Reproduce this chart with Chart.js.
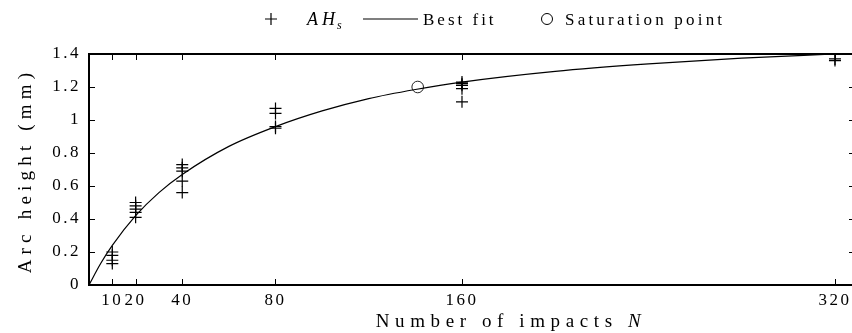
<!DOCTYPE html>
<html><head><meta charset="utf-8">
<script src="https://cdn.jsdelivr.net/npm/chart.js@4.4.1/dist/chart.umd.min.js"></script>
<style>html,body{margin:0;padding:0;background:#fff}#wrap{width:852px;height:333px}</style>
</head><body><div id="wrap"><canvas id="c" width="852" height="333"></canvas></div>
<script>
// Measured arc heights AH_s (mm) vs number of impacts N
const measN  = [10,10,10,10, 20,20,20,20,20, 40,40,40,40,40, 80,80,80,80, 160,160,160,160,160, 320,320];
const measAH = [0.20,0.18,0.15,0.13, 0.50,0.48,0.46,0.44,0.41, 0.73,0.71,0.69,0.63,0.56, 1.07,1.04,0.96,0.95, 1.23,1.22,1.21,1.19,1.11, 1.36,1.37];
// Best fit curve
const fitN  = [0,5,10,20,30,40,60,80,100,120,140,160,200,240,280,320];
const fitAH = [0,0.13,0.24,0.42,0.56,0.67,0.84,0.96,1.055,1.13,1.185,1.23,1.295,1.34,1.375,1.40];
// Saturation point
const satN  = [141];
const satAH = [1.20];
// Tick labels
const xTicks = [10,20,40,80,160,320];
const yTicks = [0,0.2,0.4,0.6,0.8,1,1.2,1.4];
const legendLabels = ['AH', 'Best fit', 'Saturation point'];
const xTitle = 'Number of impacts ';
const xTitleVar = 'N';
const yTitle = 'Arc height (mm)';

const SERIF = '"Liberation Serif", "DejaVu Serif", serif';
const TICK_SPACING = '2.5px';

const spacingPlugin = {
  id: 'spacing',
  beforeUpdate(chart){ chart.ctx.letterSpacing = TICK_SPACING; },
  beforeLayout(chart){ chart.ctx.letterSpacing = TICK_SPACING; },
  beforeDraw(chart){ chart.ctx.letterSpacing = TICK_SPACING; }
};

function spacedText(ctx, txt, x, y, spacing){
  ctx.letterSpacing = spacing + 'px';
  ctx.fillText(txt, x, y);
  return ctx.measureText(txt).width;
}

const framePlugin = {
  id: 'frame',
  afterDraw(chart){
    const {ctx, chartArea:a, scales:{x, y}} = chart;
    ctx.save();
    ctx.letterSpacing = '0px';
    ctx.strokeStyle = '#000';
    ctx.fillStyle = '#000';
    // inward ticks
    ctx.lineWidth = 1;
    ctx.beginPath();
    const rightEdge = a.right + 3;
    xTicks.forEach(v => {
      const px = Math.round(x.getPixelForValue(v)) + 0.5;
      ctx.moveTo(px, a.bottom); ctx.lineTo(px, a.bottom - 6);
      ctx.moveTo(px, a.top); ctx.lineTo(px, a.top + 6);
    });
    yTicks.forEach(v => {
      const py = Math.round(y.getPixelForValue(v)) + 0.5;
      ctx.moveTo(a.left, py); ctx.lineTo(a.left + 6, py);
      ctx.moveTo(rightEdge, py); ctx.lineTo(rightEdge - 6, py);
    });
    ctx.stroke();
    // frame (right edge lies just outside the picture)
    ctx.lineWidth = 2;
    ctx.beginPath();
    ctx.moveTo(rightEdge, a.top); ctx.lineTo(a.left, a.top);
    ctx.lineTo(a.left, a.bottom); ctx.lineTo(rightEdge, a.bottom);
    ctx.stroke();

    // y title
    ctx.save();
    ctx.font = '19px ' + SERIF;
    ctx.letterSpacing = '5.2px';
    ctx.textAlign = 'center';
    ctx.textBaseline = 'middle';
    ctx.translate(26, (a.top + a.bottom) / 2 + 1);
    ctx.rotate(-Math.PI / 2);
    ctx.fillText(yTitle, 0, 0);
    ctx.restore();

    // x title
    ctx.save();
    ctx.textBaseline = 'alphabetic';
    ctx.textAlign = 'left';
    ctx.font = '19px ' + SERIF;
    ctx.letterSpacing = '5.6px';
    const w1 = ctx.measureText(xTitle).width;
    ctx.font = 'italic 19px ' + SERIF;
    const w2 = ctx.measureText(xTitleVar).width;
    let sx = 511 - (w1 + w2) / 2;
    ctx.font = '19px ' + SERIF;
    ctx.fillText(xTitle, sx, 327);
    ctx.font = 'italic 19px ' + SERIF;
    ctx.fillText(xTitleVar, sx + w1, 327);
    ctx.restore();

    // legend
    ctx.save();
    const ly = 19;
    ctx.lineWidth = 1.2;
    ctx.beginPath();
    ctx.moveTo(265, ly); ctx.lineTo(277, ly);
    ctx.moveTo(271, ly - 6); ctx.lineTo(271, ly + 6);
    ctx.stroke();
    ctx.textBaseline = 'alphabetic';
    ctx.font = 'italic 18px ' + SERIF;
    ctx.letterSpacing = '4px';
    ctx.fillText(legendLabels[0], 307, 25);
    const wah = ctx.measureText(legendLabels[0]).width;
    ctx.font = 'italic 12px ' + SERIF;
    ctx.fillText('s', 307 + wah - 2, 29);
    ctx.beginPath();
    ctx.lineWidth = 1.2;
    ctx.moveTo(363, ly); ctx.lineTo(418, ly);
    ctx.stroke();
    ctx.font = '17px ' + SERIF;
    spacedText(ctx, legendLabels[1], 423, 25, 3);
    ctx.beginPath();
    ctx.lineWidth = 1;
    ctx.arc(547, ly, 5.5, 0, Math.PI * 2);
    ctx.stroke();
    spacedText(ctx, legendLabels[2], 565, 25, 3.2);
    ctx.restore();

    ctx.restore();
  }
};

const chart = new Chart(document.getElementById('c'), {
  type: 'scatter',
  data: {
    datasets: [
      {
        label: 'AH_s',
        data: measN.map((n, i) => ({x: n, y: measAH[i]})),
        pointStyle: 'cross',
        pointRadius: 6,
        pointBorderWidth: 1.2,
        borderColor: '#000',
        backgroundColor: '#000',
        showLine: false
      },
      {
        label: 'Best fit',
        data: fitN.map((n, i) => ({x: n, y: fitAH[i]})),
        showLine: true,
        pointRadius: 0,
        borderColor: '#000',
        borderWidth: 1.2,
        cubicInterpolationMode: 'monotone',
        fill: false
      },
      {
        label: 'Saturation point',
        data: satN.map((n, i) => ({x: n, y: satAH[i]})),
        pointStyle: 'circle',
        pointRadius: 5.8,
        pointBorderWidth: 1,
        borderColor: '#222',
        backgroundColor: 'rgba(0,0,0,0)',
        showLine: false
      }
    ]
  },
  options: {
    responsive: false,
    animation: false,
    devicePixelRatio: 1,
    layout: { autoPadding: false, padding: { left: 0, top: 54, right: 0, bottom: 0 } },
    plugins: { legend: { display: false }, tooltip: { enabled: false } },
    scales: {
      x: {
        type: 'linear',
        min: 0,
        max: 327.3,
        grid: { display: false, drawTicks: false },
        border: { display: false },
        afterBuildTicks(s){ s.ticks = xTicks.map(v => ({value: v})); },
        afterFit(s){ s.height = 48; s.paddingRight = 0; s.paddingLeft = 0; },
        ticks: {
          autoSkip: false, maxRotation: 0, padding: 5,
          color: '#000',
          font: { family: SERIF, size: 17 },
          callback: v => String(v)
        }
      },
      y: {
        type: 'linear',
        min: 0,
        max: 1.4,
        grid: { display: false, drawTicks: false },
        border: { display: false },
        afterBuildTicks(s){ s.ticks = yTicks.map(v => ({value: v})); },
        afterFit(s){ s.width = 89; s.paddingTop = 0; s.paddingBottom = 0; },
        ticks: {
          padding: 8,
          color: '#000',
          font: { family: SERIF, size: 17 },
          callback: v => String(v)
        }
      }
    }
  },
  plugins: [spacingPlugin, framePlugin]
});
</script></body></html>
